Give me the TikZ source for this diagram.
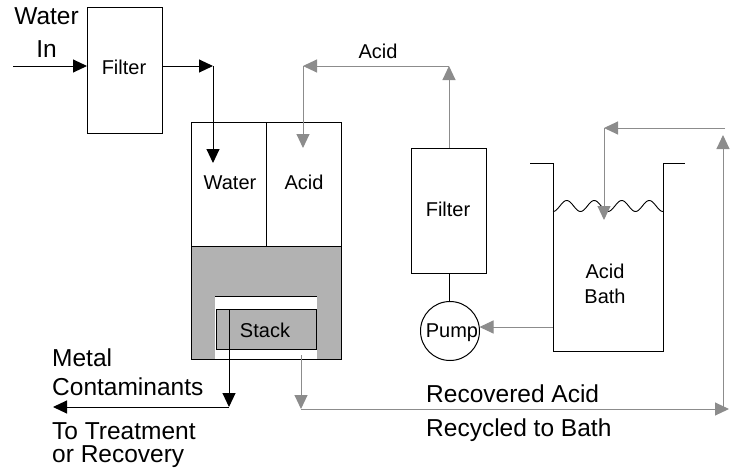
\documentclass[tikz,border=0pt]{standalone}
\usepackage{fontspec}
\setmainfont{Liberation Sans}
\usetikzlibrary{arrows.meta}
\definecolor{linegray}{RGB}{140,140,140}
\definecolor{fillgray}{RGB}{178,178,178}
\begin{document}
\begin{tikzpicture}[x=1pt,y=-1pt,
  box/.style={draw=black, line width=1pt, inner sep=0pt, outer sep=0pt},
  lbl/.style={font=\fontsize{20}{24}\selectfont, anchor=base, inner sep=0pt},
  big/.style={inner sep=0pt},
  blk/.style={draw=black, line width=1pt, -{Triangle[length=14pt,width=13pt]}},
  gry/.style={draw=linegray, line width=1pt, -{Triangle[length=14pt,width=13pt]}},
  plain/.style={draw=black, line width=1pt}
]
\useasboundingbox (0,0) rectangle (740,472);

% first filter
\node[box, minimum width=75pt, minimum height=126pt] (filterA) at (124.5,70) {};
\node[lbl] (tFilterA) at (124,74) {Filter};

% cell unit
\node[box, minimum width=75pt, minimum height=124pt] (waterC) at (228.5,184) {};
\node[box, minimum width=75pt, minimum height=124pt] (acidC) at (303.5,184) {};
\node[lbl] (tWaterC) at (230,189) {Water};
\node[lbl] (tAcidC) at (304,189) {Acid};
\node[fill=fillgray, inner sep=0pt, outer sep=0pt, minimum width=150pt, minimum height=113pt] (lowerC) at (266,302.5) {};
\node[fill=white, inner sep=0pt, outer sep=0pt, minimum width=102pt, minimum height=63pt] (whiteC) at (266,327.5) {};
\draw[plain] (whiteC.north west) -- (whiteC.north east);
\node[box, fill=fillgray, minimum width=100pt, minimum height=40pt] (stack) at (266,329) {};
\node[lbl] (tStack) at (265,337) {Stack};
\draw[plain] (lowerC.north west) rectangle (lowerC.south east);

% second filter and pump
\node[box, minimum width=75pt, minimum height=125pt] (filterB) at (449,210.5) {};
\node[lbl] (tFilterB) at (448,216) {Filter};
\node[draw=black, line width=1pt, circle, minimum size=59pt, inner sep=0pt, outer sep=0pt] (pump) at (450,331) {};
\node[lbl] (tPump) at (452,337) {Pump};
\draw[plain] (filterB.south) -- (filterB.south |- pump.north);

% acid bath
\coordinate (bathTL) at (530,163);
\coordinate (bathL) at (553,163);
\coordinate (bathBL) at (553,351);
\coordinate (bathBR) at (663,351);
\coordinate (bathR) at (663,163);
\coordinate (bathTR) at (685,163);
\draw[plain] (bathTL) -- (bathL) -- (bathBL) -- (bathBR) -- (bathR) -- (bathTR);
\draw[black, line width=0.9pt] plot[smooth, domain=0:110, samples=90] ({553+\x},{206+5.5*cos(\x/27.5*360)});
\node[lbl, align=center] (tAcidB) at (605,303) {Acid\\[1pt]Bath};

% water path
\coordinate (win) at (13,66);
\coordinate (w1) at (213,66);
\coordinate (w2) at (213,163);
\draw[blk] (win) -- (filterA.west |- win);
\draw[blk] (filterA.east |- w1) -- (w1);
\draw[blk] (w1) -- (w2);

% acid path
\coordinate (a1) at (449,66);
\coordinate (a2) at (303,66);
\coordinate (a3) at (303,148);
\draw[gry] (filterB.north) -- (a1);
\draw[gry] (a1) -- (a2);
\draw[gry] (a2) -- (a3);
\node[lbl] (tAcidTop) at (378,58) {Acid};

% bath to pump
\coordinate (bw) at (553,327);
\draw[gry] (bw) -- (pump.east |- bw);

% metal contaminants
\coordinate (m1) at (229,407);
\coordinate (m2) at (53,407);
\draw[blk] (stack.north -| m1) -- (m1);
\draw[blk] (m1) -- (m2);

% recovered acid
\coordinate (r0) at (301,355);
\coordinate (r1) at (301,409);
\coordinate (r2) at (729,409);
\coordinate (r2b) at (723,409);
\coordinate (r3) at (723,135);
\coordinate (r4a) at (725,128);
\coordinate (r4) at (604,128);
\coordinate (r5) at (604,220);
\draw[gry] (r0) -- (r1);
\draw[gry] (r1) -- (r2);
\draw[gry] (r2b) -- (r3);
\draw[gry] (r4a) -- (r4);
\draw[gry] (r4) -- (r5);

% labels
\node[big, anchor=base, align=center, font=\fontsize{24.5}{33}\selectfont] (tWater) at (46.5,57) {Water\\In};
\node[big, anchor=base west, align=left, font=\fontsize{24.5}{29}\selectfont] (tMetal) at (52,395) {Metal\\Contaminants};
\node[big, anchor=base west, align=left, font=\fontsize{24.5}{22.5}\selectfont] (tTreat) at (52,462) {To Treatment\\or Recovery};
\node[big, anchor=base west, align=left, font=\fontsize{24.5}{34}\selectfont] (tRecAcid) at (426,436) {Recovered Acid\\Recycled to Bath};
\end{tikzpicture}
\end{document}
